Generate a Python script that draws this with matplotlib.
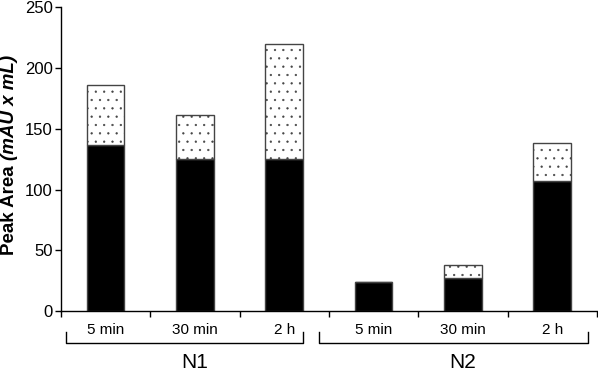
import numpy as np
import matplotlib
matplotlib.use('Agg')
from matplotlib import pyplot as plt

times = ['5 min', '30 min', '2 h', '5 min', '30 min', '2 h']
groups = ['N1', 'N2']
solid = [137, 125, 125, 24, 27, 107]
dotted = [49, 36, 95, 0, 11, 31]

plt.rcParams['font.family'] = 'Liberation Sans'
plt.rcParams['hatch.linewidth'] = 0.4
plt.rcParams['hatch.color'] = 'black'

fig = plt.figure(figsize=(5.98, 3.74), dpi=100)
ax = fig.add_axes([0.102, 0.168, 0.896, 0.813])

x = np.arange(len(times))
ax.bar(x, solid, width=0.42, color='black', edgecolor='#444444', linewidth=1)
ax.bar(x, dotted, bottom=solid, width=0.42, color='white', edgecolor='#444444',
       linewidth=1, hatch='..')

ax.set_xlim(-0.5, 5.5)
ax.set_ylim(0, 250)
ax.set_yticks([0, 50, 100, 150, 200, 250])
ax.set_xticks(np.arange(-0.5, 6, 1))
ax.set_xticklabels([])
ax.tick_params(axis='both', direction='out', length=4, width=1, colors='black', labelsize=12)
ax.tick_params(axis='y', pad=2)
for s in ['top', 'right']:
    ax.spines[s].set_visible(False)
for s in ['left', 'bottom']:
    ax.spines[s].set_linewidth(1)

# y label: bold with italic units
fig.text(0.016, 0.572, 'Peak Area ', rotation=90, fontsize=13.5, fontweight='bold',
         ha='center', va='top')
fig.text(0.016, 0.572, '(mAU x mL)', rotation=90, fontsize=13.5, fontweight='bold',
         style='italic', ha='center', va='bottom')

trans = ax.get_xaxis_transform()
for i, t in enumerate(times):
    ax.text(x[i], -0.062, t, transform=trans, ha='center', va='center', fontsize=11)

spans = [(-0.44, 2.21), (2.39, 5.40)]
for (a, b), g, c in zip(spans, groups, [1, 4]):
    ax.plot([a, a, b, b], [-0.07, -0.105, -0.105, -0.07], transform=trans,
            color='black', lw=1, clip_on=False)
    ax.text(c, -0.168, g, transform=trans, ha='center', va='center', fontsize=15)

fig.savefig('out.png', dpi=100)
